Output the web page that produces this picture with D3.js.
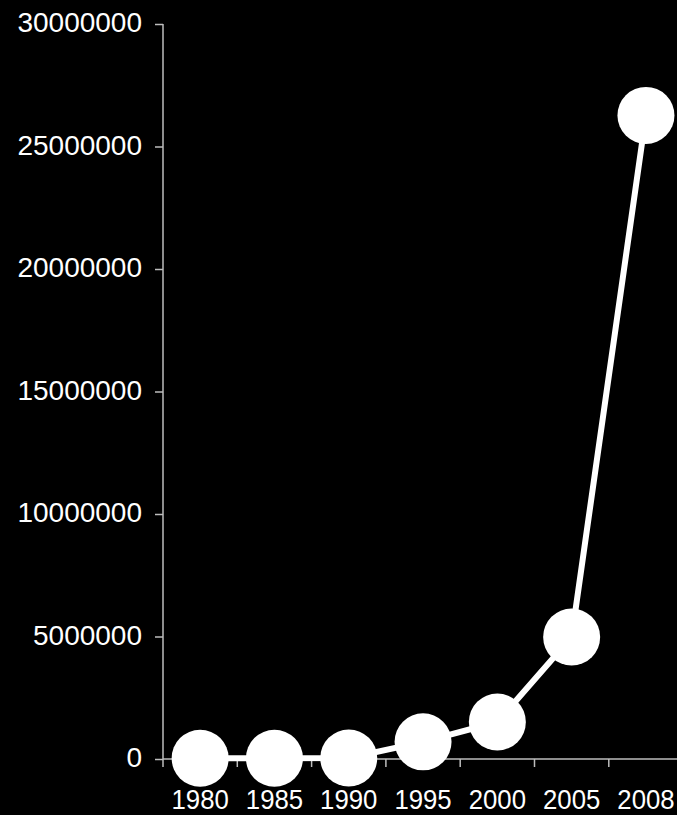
<!DOCTYPE html>
<html>
<head>
<meta charset="utf-8">
<script src="https://cdn.jsdelivr.net/npm/d3@7"></script>
<style>
  body { margin: 0; background: #000; }
  svg { display: block; background: #000; }
  .axis text { font-family: "Liberation Sans", Arial, sans-serif; fill: #fff; }
</style>
</head>
<body>
<div id="chart"></div>
<script>
// chart values
var years = ["1980", "1985", "1990", "1995", "2000", "2005", "2008"];
var values = [30000, 30000, 40000, 700000, 1510000, 4980000, 26270000];
var yTicks = [0, 5000000, 10000000, 15000000, 20000000, 25000000, 30000000];

var width = 677, height = 815;
var margin = { top: 24, left: 163, bottom: 56 };
var bandW = 74.3;

var svg = d3.select("#chart").append("svg")
  .attr("width", width)
  .attr("height", height);

var x = d3.scaleBand()
  .domain(years)
  .range([margin.left, margin.left + bandW * years.length])
  .padding(0);

var y = d3.scaleLinear()
  .domain([0, 30000000])
  .range([height - margin.bottom, margin.top]);

var axisColor = "#bdbdbd";

// y axis
var yAxis = d3.axisLeft(y)
  .tickValues(yTicks)
  .tickFormat(d3.format("d"))
  .tickSize(8)
  .tickPadding(13);

var gy = svg.append("g")
  .attr("class", "axis")
  .attr("transform", "translate(" + margin.left + ",0)")
  .call(yAxis);
gy.select(".domain").remove();
gy.append("line")
  .attr("x1", 0).attr("x2", 0)
  .attr("y1", y(30000000)).attr("y2", y(0))
  .attr("stroke", axisColor).attr("stroke-width", 1.5);
gy.selectAll(".tick line").attr("stroke", axisColor).attr("stroke-width", 1.5);
gy.selectAll(".tick text")
  .style("font-size", "28px")
  .attr("dy", "0.28em");

// x axis - labels centred, ticks between categories
var xAxis = d3.axisBottom(x).tickSize(0).tickPadding(30);
var gx = svg.append("g")
  .attr("class", "axis")
  .attr("transform", "translate(0," + y(0) + ")")
  .call(xAxis);
gx.select(".domain").remove();
gx.selectAll(".tick text")
  .style("font-size", "28px")
  .attr("transform", "scale(0.92,1)");
gx.append("line")
  .attr("x1", margin.left).attr("x2", x.range()[1])
  .attr("y1", 0).attr("y2", 0)
  .attr("stroke", axisColor).attr("stroke-width", 1.5);
gx.selectAll(".bound")
  .data(years.concat(["end"]))
  .enter().append("line")
  .attr("class", "bound")
  .attr("x1", function(d, i) { return x.range()[0] + i * x.bandwidth(); })
  .attr("x2", function(d, i) { return x.range()[0] + i * x.bandwidth(); })
  .attr("y1", 0).attr("y2", 8)
  .attr("stroke", axisColor).attr("stroke-width", 1.5);

// line + markers
var data = years.map(function(yr, i) { return { year: yr, v: values[i] }; });
var cx = function(d) { return x(d.year) + x.bandwidth() / 2; };

svg.append("path")
  .datum(data)
  .attr("fill", "none")
  .attr("stroke", "#fff")
  .attr("stroke-width", 6)
  .attr("d", d3.line().x(cx).y(function(d) { return y(d.v); }));

svg.selectAll(".dot")
  .data(data)
  .enter().append("circle")
  .attr("class", "dot")
  .attr("cx", cx)
  .attr("cy", function(d) { return y(d.v); })
  .attr("r", 28.5)
  .attr("fill", "#fff");
</script>
</body>
</html>
